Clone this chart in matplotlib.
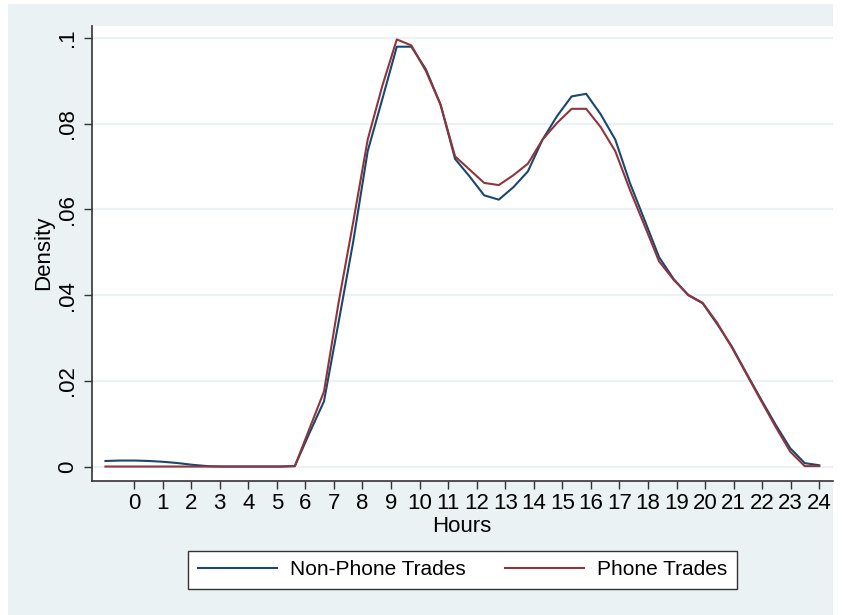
import matplotlib
matplotlib.use('Agg')
import matplotlib.pyplot as plt
from matplotlib.patches import Rectangle

plt.rcParams['font.family'] = ['Liberation Sans', 'DejaVu Sans']

# kdensity evaluation grid (hours) and estimated densities
hours = [-1.000, -0.490, 0.020, 0.531, 1.041, 1.551, 2.061, 2.571, 3.082, 3.592,
         4.102, 4.612, 5.122, 5.633, 6.143, 6.653, 7.163, 7.673, 8.184, 8.694,
         9.204, 9.714, 10.224, 10.735, 11.245, 11.755, 12.265, 12.776, 13.286, 13.796,
         14.306, 14.816, 15.327, 15.837, 16.347, 16.857, 17.367, 17.878, 18.388, 18.898,
         19.408, 19.918, 20.429, 20.939, 21.449, 21.959, 22.469, 22.980, 23.490, 24.000]

non_phone = [0.0013, 0.0014, 0.0014, 0.0013, 0.0011, 0.0008, 0.0004, 0.0001, 0.0, 0.0,
             0.0, 0.0, 0.0, 0.0001, 0.0078, 0.0152, 0.0336, 0.0523, 0.0736, 0.0857,
             0.0980, 0.0980, 0.0927, 0.0845, 0.0718, 0.0677, 0.0633, 0.0623, 0.0652, 0.0689,
             0.0763, 0.0818, 0.0864, 0.0870, 0.0822, 0.0763, 0.0662, 0.0576, 0.0489, 0.0438,
             0.0400, 0.0381, 0.0332, 0.0280, 0.0218, 0.0157, 0.0098, 0.0043, 0.0008, 0.0003]

phone = [0.0, 0.0, 0.0, 0.0, 0.0, 0.0, 0.0, 0.0, 0.0, 0.0,
         0.0, 0.0, 0.0, 0.0001, 0.0088, 0.0175, 0.0382, 0.0569, 0.0763, 0.0888,
         0.0997, 0.0983, 0.0923, 0.0845, 0.0724, 0.0693, 0.0662, 0.0657, 0.0680, 0.0707,
         0.0763, 0.0802, 0.0835, 0.0835, 0.0792, 0.0736, 0.0646, 0.0563, 0.0479, 0.0436,
         0.0401, 0.0382, 0.0335, 0.0278, 0.0216, 0.0154, 0.0093, 0.0035, 0.0001, 0.0001]

x_ticks = list(range(0, 25))
y_ticks = [0, 0.02, 0.04, 0.06, 0.08, 0.1]
y_labels = ['0', '.02', '.04', '.06', '.08', '.1']

bg = '#EAF2F3'
navy = '#1A476F'
maroon = '#90353B'
axis_col = '#333333'

fig = plt.figure(figsize=(8.44, 6.15), dpi=100, facecolor='white')
# stata-like light graph region (cropped with a white strip on top/left/right)
fig.patches.append(Rectangle((8 / 844, 0), (833 - 8) / 844, 1 - 4 / 615,
                             transform=fig.transFigure, facecolor=bg,
                             edgecolor='none', zorder=-10))

ax = fig.add_axes([0.1087, 0.2184, 0.8779, 0.7398])
ax.set_facecolor('white')

ax.plot(hours, non_phone, color=navy, lw=1.5, label='Non-Phone Trades', zorder=3)
ax.plot(hours, phone, color=maroon, lw=1.5, label='Phone Trades', zorder=3)

ax.set_xlim(-1.48, 24.47)
ax.set_ylim(-0.0033, 0.1029)

ax.set_xticks(x_ticks)
ax.set_yticks(y_ticks)
ax.set_yticklabels(y_labels, rotation=90, va='center')

for y in y_ticks:
    ax.axhline(y, color=bg, lw=1.6, zorder=1)

for side in ['top', 'right']:
    ax.spines[side].set_visible(False)
for side in ['left', 'bottom']:
    ax.spines[side].set_color(axis_col)
    ax.spines[side].set_linewidth(1.2)

ax.tick_params(axis='both', direction='out', length=6, width=1,
               color=axis_col, labelsize=16, labelcolor='black')
ax.tick_params(axis='x', pad=3)
ax.tick_params(axis='y', pad=4)

ax.set_xlabel('Hours', fontsize=16, labelpad=1)
ax.set_ylabel('Density', fontsize=16, labelpad=2)

leg = fig.legend(loc='center', bbox_to_anchor=(0.548, 0.0732), ncol=2,
                 fontsize=15, frameon=True, fancybox=False,
                 handlelength=3.8, handletextpad=0.65, columnspacing=1.85,
                 borderpad=0.45)
leg.get_frame().set_edgecolor(axis_col)
leg.get_frame().set_linewidth(1.0)
leg.get_frame().set_facecolor('white')
leg.get_frame().set_alpha(1)

fig.savefig('out.png', dpi=100, facecolor=fig.get_facecolor())
plt.close(fig)
